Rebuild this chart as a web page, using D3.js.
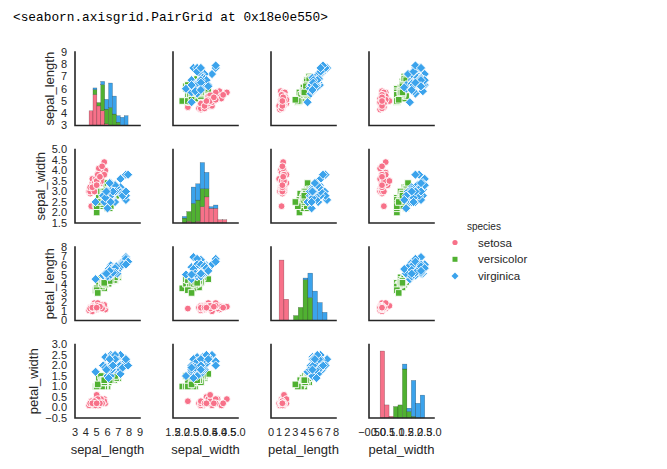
<!DOCTYPE html>
<html><head><meta charset="utf-8">
<script src="https://cdn.jsdelivr.net/npm/d3@7"></script>
<style>body{margin:0;background:#fff;overflow:hidden}</style>
</head><body><svg id="c" width="667" height="469"></svg>
<script>
// ---------------- data ----------------
const speciesNames = ["setosa", "versicolor", "virginica"];
const speciesCounts = [50, 50, 50];
const variables = ["sepal_length", "sepal_width", "petal_length", "petal_width"];

const sepal_length = [
5.1,4.9,4.7,4.6,5.0,5.4,4.6,5.0,4.4,4.9,5.4,4.8,4.8,4.3,5.8,5.7,5.4,5.1,5.7,5.1,5.4,5.1,4.6,5.1,4.8,5.0,5.0,5.2,5.2,4.7,4.8,5.4,5.2,5.5,4.9,5.0,5.5,4.9,4.4,5.1,5.0,4.5,4.4,5.0,5.1,4.8,5.1,4.6,5.3,5.0,
7.0,6.4,6.9,5.5,6.5,5.7,6.3,4.9,6.6,5.2,5.0,5.9,6.0,6.1,5.6,6.7,5.6,5.8,6.2,5.6,5.9,6.1,6.3,6.1,6.4,6.6,6.8,6.7,6.0,5.7,5.5,5.5,5.8,6.0,5.4,6.0,6.7,6.3,5.6,5.5,5.5,6.1,5.8,5.0,5.6,5.7,5.7,6.2,5.1,5.7,
6.3,5.8,7.1,6.3,6.5,7.6,4.9,7.3,6.7,7.2,6.5,6.4,6.8,5.7,5.8,6.4,6.5,7.7,7.7,6.0,6.9,5.6,7.7,6.3,6.7,7.2,6.2,6.1,6.4,7.2,7.4,7.9,6.4,6.3,6.1,7.7,6.3,6.4,6.0,6.9,6.7,6.9,5.8,6.8,6.7,6.7,6.3,6.5,6.2,5.9];
const sepal_width = [
3.5,3.0,3.2,3.1,3.6,3.9,3.4,3.4,2.9,3.1,3.7,3.4,3.0,3.0,4.0,4.4,3.9,3.5,3.8,3.8,3.4,3.7,3.6,3.3,3.4,3.0,3.4,3.5,3.4,3.2,3.1,3.4,4.1,4.2,3.1,3.2,3.5,3.6,3.0,3.4,3.5,2.3,3.2,3.5,3.8,3.0,3.8,3.2,3.7,3.3,
3.2,3.2,3.1,2.3,2.8,2.8,3.3,2.4,2.9,2.7,2.0,3.0,2.2,2.9,2.9,3.1,3.0,2.7,2.2,2.5,3.2,2.8,2.5,2.8,2.9,3.0,2.8,3.0,2.9,2.6,2.4,2.4,2.7,2.7,3.0,3.4,3.1,2.3,3.0,2.5,2.6,3.0,2.6,2.3,2.7,3.0,2.9,2.9,2.5,2.8,
3.3,2.7,3.0,2.9,3.0,3.0,2.5,2.9,2.5,3.6,3.2,2.7,3.0,2.5,2.8,3.2,3.0,3.8,2.6,2.2,3.2,2.8,2.8,2.7,3.3,3.2,2.8,3.0,2.8,3.0,2.8,3.8,2.8,2.8,2.6,3.0,3.4,3.1,3.0,3.1,3.1,3.1,2.7,3.2,3.3,3.0,2.5,3.0,3.4,3.0];
const petal_length = [
1.4,1.4,1.3,1.5,1.4,1.7,1.4,1.5,1.4,1.5,1.5,1.6,1.4,1.1,1.2,1.5,1.3,1.4,1.7,1.5,1.7,1.5,1.0,1.7,1.9,1.6,1.6,1.5,1.4,1.6,1.6,1.5,1.5,1.4,1.5,1.2,1.3,1.4,1.3,1.5,1.3,1.3,1.3,1.6,1.9,1.4,1.6,1.4,1.5,1.4,
4.7,4.5,4.9,4.0,4.6,4.5,4.7,3.3,4.6,3.9,3.5,4.2,4.0,4.7,3.6,4.4,4.5,4.1,4.5,3.9,4.8,4.0,4.9,4.7,4.3,4.4,4.8,5.0,4.5,3.5,3.8,3.7,3.9,5.1,4.5,4.5,4.7,4.4,4.1,4.0,4.4,4.6,4.0,3.3,4.2,4.2,4.2,4.3,3.0,4.1,
6.0,5.1,5.9,5.6,5.8,6.6,4.5,6.3,5.8,6.1,5.1,5.3,5.5,5.0,5.1,5.3,5.5,6.7,6.9,5.0,5.7,4.9,6.7,4.9,5.7,6.0,4.8,4.9,5.6,5.8,6.1,6.4,5.6,5.1,5.6,6.1,5.6,5.5,4.8,5.4,5.6,5.1,5.1,5.9,5.7,5.2,5.0,5.2,5.4,5.1];
const petal_width = [
0.2,0.2,0.2,0.2,0.2,0.4,0.3,0.2,0.2,0.1,0.2,0.2,0.1,0.1,0.2,0.4,0.4,0.3,0.3,0.3,0.2,0.4,0.2,0.5,0.2,0.2,0.4,0.2,0.2,0.2,0.2,0.4,0.1,0.2,0.2,0.2,0.2,0.1,0.2,0.2,0.3,0.3,0.2,0.6,0.4,0.3,0.2,0.2,0.2,0.2,
1.4,1.5,1.5,1.3,1.5,1.3,1.6,1.0,1.3,1.4,1.0,1.5,1.0,1.4,1.3,1.4,1.5,1.0,1.5,1.1,1.8,1.3,1.5,1.2,1.3,1.4,1.4,1.7,1.5,1.0,1.1,1.0,1.2,1.6,1.5,1.6,1.5,1.3,1.3,1.3,1.2,1.4,1.2,1.0,1.3,1.2,1.3,1.3,1.1,1.3,
2.5,1.9,2.1,1.8,2.2,2.1,1.7,1.8,1.8,2.5,2.0,1.9,2.1,2.0,2.4,2.3,1.8,2.2,2.3,1.5,2.3,2.0,2.0,1.8,2.1,1.8,1.8,1.8,2.1,1.6,1.9,2.0,2.2,1.5,1.4,2.3,2.4,1.8,1.8,2.1,2.4,2.3,1.9,2.3,2.5,2.3,1.9,2.0,2.3,1.8];

// axis tick values (first/last = axis limits)
const sepalLengthTicks = [3, 4, 5, 6, 7, 8, 9];
const sepalWidthTicks = [1.5, 2.0, 2.5, 3.0, 3.5, 4.0, 4.5, 5.0];
const petalLengthTicks = [0, 1, 2, 3, 4, 5, 6, 7, 8];
const petalWidthTicks = [-0.5, 0.0, 0.5, 1.0, 1.5, 2.0, 2.5, 3.0];
const tickDecimals = [0, 1, 0, 1];
const histBins = 10;
const histCountLimit = 45;   // shared y-limit of the diagonal histograms

const titleText = "<seaborn.axisgrid.PairGrid at 0x18e0e550>";

// ---------------- drawing ----------------
const colors = ["#f77189", "#50b131", "#3ba3ec"];
const columns = [sepal_length, sepal_width, petal_length, petal_width];
const ticksAll = [sepalLengthTicks, sepalWidthTicks, petalLengthTicks, petalWidthTicks];
const speciesIdx = [];
speciesCounts.forEach((n, s) => { for (let k = 0; k < n; k++) speciesIdx.push(s); });

const svg = d3.select("#c");
const FONT = "'Liberation Sans', Arial, sans-serif";
const TEXT = "#262626";

svg.append("text").attr("x", 13).attr("y", 21)
  .attr("font-family", "'Liberation Mono', 'DejaVu Sans Mono', monospace")
  .attr("font-size", 12.8).attr("fill", "#000").text(titleText);

const L0 = 75, DX = 98, W = 65, T0 = 52, DY = 97.5, H = 73.5;

function markerPath(s) {
  if (s === 0) { const r = 3.4; return `M${r},0A${r},${r} 0 1,1 ${-r},0A${r},${r} 0 1,1 ${r},0Z`; }
  if (s === 1) { const a = 3.3; return `M${-a},${-a}H${a}V${a}H${-a}Z`; }
  const d = 4.6; return `M0,${-d}L${d},0L0,${d}L${-d},0Z`;
}
function legendPath(s) {
  if (s === 0) { const r = 2.6; return `M${r},0A${r},${r} 0 1,1 ${-r},0A${r},${r} 0 1,1 ${r},0Z`; }
  if (s === 1) { const a = 2.5; return `M${-a},${-a}H${a}V${a}H${-a}Z`; }
  const d = 3.5; return `M0,${-d}L${d},0L0,${d}L${-d},0Z`;
}

for (let i = 0; i < 4; i++) {
  for (let j = 0; j < 4; j++) {
    const left = L0 + DX * j, top = T0 + DY * i;
    const xt = ticksAll[j], yt = ticksAll[i];
    const x = d3.scaleLinear().domain([xt[0], xt[xt.length - 1]]).range([left, left + W]);
    const y = d3.scaleLinear().domain([yt[0], yt[yt.length - 1]]).range([top + H, top]);
    const g = svg.append("g");
    if (i === j) {
      const vals = columns[j];
      const mn = d3.min(vals), mx = d3.max(vals);
      const edges = d3.range(histBins + 1).map(k => mn + k * (mx - mn) / histBins);
      const counts = speciesNames.map(() => new Array(histBins).fill(0));
      vals.forEach((v, k) => {
        let b = 0;
        for (let e = 0; e < histBins; e++) if (v >= edges[e]) b = e;
        counts[speciesIdx[k]][b]++;
      });
      const yh = d3.scaleLinear().domain([0, histCountLimit]).range([top + H, top]);
      const bottoms = new Array(histBins).fill(0);
      speciesNames.forEach((_, s) => {
        for (let b = 0; b < histBins; b++) {
          const c = counts[s][b];
          if (c > 0) {
            g.append("rect")
              .attr("x", x(edges[b])).attr("width", x(edges[b + 1]) - x(edges[b]))
              .attr("y", yh(bottoms[b] + c)).attr("height", yh(bottoms[b]) - yh(bottoms[b] + c))
              .attr("fill", colors[s]).attr("stroke", "rgba(0,0,0,0.45)").attr("stroke-width", 0.4);
          }
          bottoms[b] += c;
        }
      });
    } else {
      const xv = columns[j], yv = columns[i];
      speciesNames.forEach((_, s) => {
        xv.forEach((v, k) => {
          if (speciesIdx[k] !== s) return;
          g.append("path").attr("d", markerPath(s))
            .attr("transform", `translate(${x(v)},${y(yv[k])})`)
            .attr("fill", colors[s]).attr("stroke", "#fff").attr("stroke-width", 0.9);
        });
      });
    }
    // spines
    svg.append("path")
      .attr("d", `M${left},${top}V${top + H}H${left + W}`)
      .attr("fill", "none").attr("stroke", TEXT).attr("stroke-width", 1.6)
      .attr("stroke-linecap", "square");
    // y tick labels (first column)
    if (j === 0) {
      let maxW = 0;
      yt.forEach(t => {
        const tx = svg.append("text").attr("x", left - 8).attr("y", y(t)).attr("dy", "0.36em")
          .attr("text-anchor", "end").attr("font-family", FONT).attr("font-size", 11)
          .attr("fill", TEXT).text(d3.format(`.${tickDecimals[i]}f`)(t));
        maxW = Math.max(maxW, tx.node().getComputedTextLength());
      });
      svg.append("text")
        .attr("transform", `translate(${left - 8 - maxW - 7},${top + H / 2}) rotate(-90)`)
        .attr("text-anchor", "middle").attr("font-family", FONT).attr("font-size", 13)
        .attr("fill", TEXT).text(variables[i]);
    }
    // x tick labels (last row)
    if (i === 3) {
      xt.forEach(t => {
        svg.append("text").attr("x", x(t)).attr("y", top + H + 17.5)
          .attr("text-anchor", "middle").attr("font-family", FONT).attr("font-size", 11)
          .attr("fill", TEXT).text(d3.format(`.${tickDecimals[j]}f`)(t));
      });
      svg.append("text").attr("x", left + W / 2).attr("y", top + H + 36)
        .attr("text-anchor", "middle").attr("font-family", FONT).attr("font-size", 13)
        .attr("fill", TEXT).text(variables[j]);
    }
  }
}

// legend
const lg = svg.append("g");
lg.append("text").attr("x", 467).attr("y", 229.5).attr("font-family", FONT)
  .attr("font-size", 10).attr("fill", TEXT).text("species");
speciesNames.forEach((name, s) => {
  const cy = 242.5 + s * 16.8;
  lg.append("path").attr("d", legendPath(s)).attr("transform", `translate(455,${cy})`)
    .attr("fill", colors[s]);
  lg.append("text").attr("x", 478).attr("y", cy).attr("dy", "0.36em").attr("font-family", FONT)
    .attr("font-size", 11.5).attr("fill", TEXT).text(name);
});
</script>
</body></html>
